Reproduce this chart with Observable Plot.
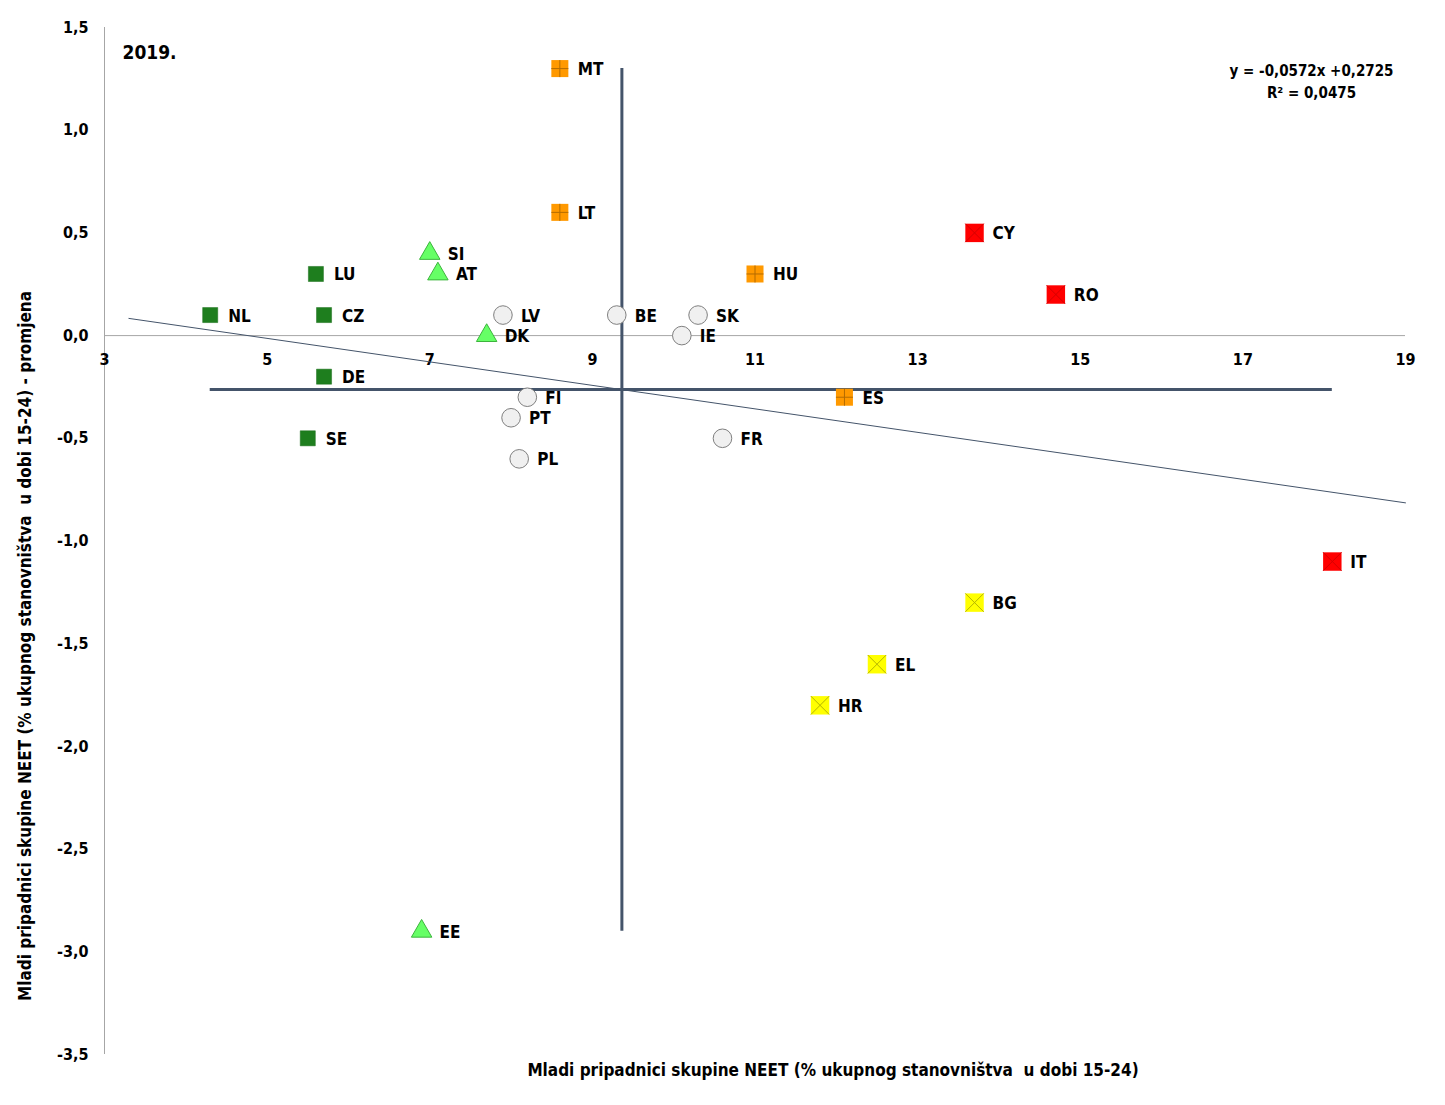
<!DOCTYPE html>
<html><head><meta charset="utf-8">
<script src="https://cdn.jsdelivr.net/npm/d3@7"></script>
<script src="https://cdn.jsdelivr.net/npm/@observablehq/plot@0.6"></script>
<style>
body{margin:0;background:#fff;}
#chart svg{font-family:"DejaVu Sans Condensed","DejaVu Sans",sans-serif;}
</style>
</head><body><div id="chart"></div>
<script>
const countries = ["MT","LT","HU","ES","CY","RO","IT","BG","EL","HR","NL","LU","CZ","DE","SE","SI","AT","DK","EE","LV","BE","SK","IE","FI","PT","PL","FR"];
const neetRate = [8.6,8.6,11.0,12.1,13.7,14.7,18.1,13.7,12.5,11.8,4.3,5.6,5.7,5.7,5.5,7.0,7.1,7.7,6.9,7.9,9.3,10.3,10.1,8.2,8.0,8.1,10.6];
const neetChange = [1.3,0.6,0.3,-0.3,0.5,0.2,-1.1,-1.3,-1.6,-1.8,0.1,0.3,0.1,-0.2,-0.5,0.4,0.3,0.0,-2.9,0.1,0.1,0.1,0.0,-0.3,-0.4,-0.6,-0.5];
const groups = ["orange","orange","orange","orange","red","red","red","yellow","yellow","yellow","green","green","green","green","green","tri","tri","tri","tri","circle","circle","circle","circle","circle","circle","circle","circle"];
const xTicks = [3,5,7,9,11,13,15,17,19];
const yTicks = [-3.5,-3.0,-2.5,-2.0,-1.5,-1.0,-0.5,0.0,0.5,1.0,1.5];
const trendSlope = -0.0572, trendIntercept = 0.2725;
const trendRange = [3.3, 19];
const yearLabel = "2019.";
const equationLines = ["y = -0,0572x +0,2725", "R² = 0,0475"];
const xTitle = "Mladi pripadnici skupine NEET (% ukupnog stanovništva  u dobi 15-24)";
const yTitle = "Mladi pripadnici skupine NEET (% ukupnog stanovništva  u dobi 15-24) - promjena";

const data = countries.map((c,i)=>({c, x: neetRate[i], y: neetChange[i], g: groups[i]}));
const of = g => data.filter(d => d.g === g);
const meanX = d3.mean(neetRate), meanY = d3.mean(neetChange);
const trendPts = trendRange.map(x => ({x, y: trendSlope*x + trendIntercept}));
const fmt = d => d.toFixed(1).replace(".", ",");

const plusSym = {draw(ctx, size){ const h = Math.sqrt(size)/2; ctx.moveTo(-h,0); ctx.lineTo(h,0); ctx.moveTo(0,-h); ctx.lineTo(0,h); }};
const crossSym = {draw(ctx, size){ const h = Math.sqrt(size)/2; ctx.moveTo(-h,-h); ctx.lineTo(h,h); ctx.moveTo(-h,h); ctx.lineTo(h,-h); }};

const bold = {fontWeight:"bold", fill:"#000"};

const chart = Plot.plot({
  width:1445, height:1105,
  marginLeft:104, marginRight:40, marginTop:27, marginBottom:51,
  x:{domain:[3,19], axis:null},
  y:{domain:[-3.5,1.5], axis:null},
  style:{background:"#fff", overflow:"visible"},
  marks:[
    Plot.ruleX([3], {stroke:"#a6a6a6", strokeWidth:1}),
    Plot.ruleY([0], {stroke:"#a6a6a6", strokeWidth:1}),
    Plot.text(xTicks, {x:d=>d, y:0, dy:24, text:d=>String(d), fontSize:16, ...bold}),
    Plot.text(yTicks, {x:3, y:d=>d, dx:-16, textAnchor:"end", text:fmt, fontSize:16, ...bold}),
    Plot.ruleX([meanX], {y1:d3.min(neetChange), y2:d3.max(neetChange), stroke:"#44546a", strokeWidth:3}),
    Plot.ruleY([meanY], {x1:d3.min(neetRate), x2:d3.max(neetRate), stroke:"#44546a", strokeWidth:3}),
    Plot.line(trendPts, {x:"x", y:"y", stroke:"#44546a", strokeWidth:1}),
    Plot.dot(of("green"), {x:"x", y:"y", symbol:"square", r:8.5, fill:"#1e7e1e", stroke:"#1a6e1a", strokeWidth:0.5}),
    Plot.dot(of("tri"), {x:"x", y:"y", symbol:"triangle", r:7.6, fill:"#66ff66", stroke:"#3cb43c", strokeWidth:1}),
    Plot.dot(of("circle"), {x:"x", y:"y", symbol:"circle", r:9.3, fill:"#f0f0f0", stroke:"#7f7f7f", strokeWidth:1}),
    Plot.dot(of("orange"), {x:"x", y:"y", symbol:"square", r:9.6, fill:"#ff9900", stroke:"none"}),
    Plot.dot(of("orange"), {x:"x", y:"y", symbol:plusSym, r:9.6, fill:"none", stroke:"#b36b00", strokeWidth:1}),
    Plot.dot(of("red"), {x:"x", y:"y", symbol:"square", r:10.4, fill:"#ff0000", stroke:"none"}),
    Plot.dot(of("red"), {x:"x", y:"y", symbol:crossSym, r:10.4, fill:"none", stroke:"#d40000", strokeWidth:1}),
    Plot.dot(of("yellow"), {x:"x", y:"y", symbol:"square", r:10.4, fill:"#ffff00", stroke:"none"}),
    Plot.dot(of("yellow"), {x:"x", y:"y", symbol:crossSym, r:10.4, fill:"none", stroke:"#b5b500", strokeWidth:1}),
    Plot.text(data, {x:"x", y:"y", text:"c", dx:18, dy:1, textAnchor:"start", fontSize:17, ...bold}),
    Plot.text([yearLabel], {frameAnchor:"top-left", dx:18, dy:25, textAnchor:"start", lineAnchor:"middle", fontSize:19, ...bold}),
    Plot.text([equationLines[0]], {frameAnchor:"top-right", dx:-94, dy:44, textAnchor:"middle", lineAnchor:"middle", fontSize:15, ...bold}),
    Plot.text([equationLines[1]], {frameAnchor:"top-right", dx:-94, dy:66, textAnchor:"middle", lineAnchor:"middle", fontSize:15, ...bold}),
    Plot.text([xTitle], {frameAnchor:"bottom", dx:78, dy:16, textAnchor:"middle", lineAnchor:"middle", fontSize:17, ...bold}),
    Plot.text([yTitle], {frameAnchor:"left", dx:-79, dy:105, rotate:-90, textAnchor:"middle", lineAnchor:"middle", fontSize:17, ...bold})
  ]
});
document.getElementById("chart").appendChild(chart);
</script>
</body></html>
